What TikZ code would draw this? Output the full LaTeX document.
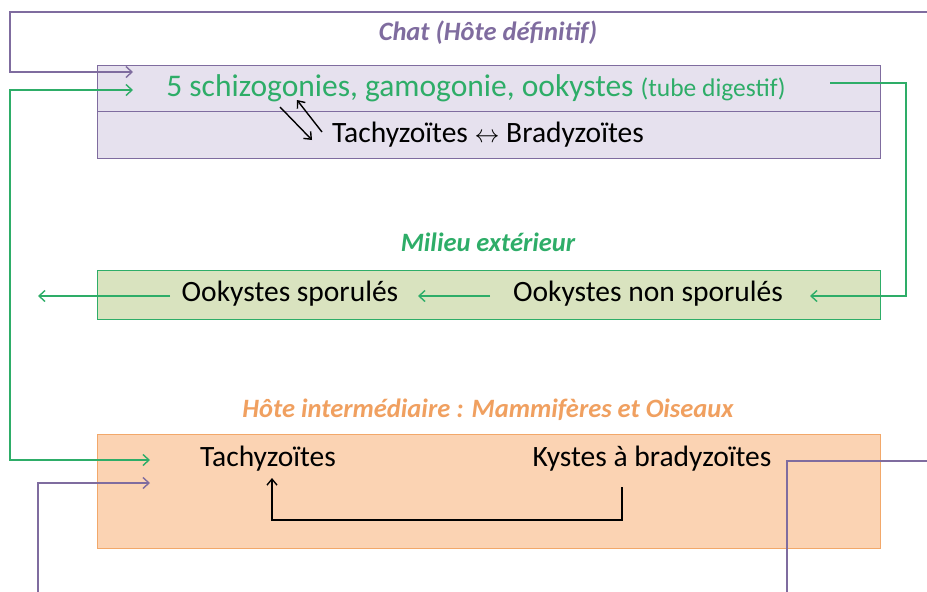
\documentclass[tikz,border=0pt]{standalone}
\usepackage{fontspec}
\setmainfont{Carlito}
\usetikzlibrary{arrows.meta, positioning}
\definecolor{chatline}{HTML}{7F6C9F}
\definecolor{chatfill}{HTML}{E6E1EE}
\definecolor{milgreen}{HTML}{2EAD68}
\definecolor{milfill}{HTML}{D9E3BF}
\definecolor{hotefill}{HTML}{FBD3B3}
\definecolor{hoteline}{HTML}{F2A86A}
\definecolor{hotetitle}{HTML}{F0A060}

\begin{document}
\begin{tikzpicture}[x=1pt, y=-1pt,
    zone/.style={rectangle, anchor=north west, inner sep=0pt,
                 minimum width=783pt, line width=1.2pt},
    title/.style={font=\fontsize{26.5}{26.5}\selectfont\bfseries\itshape},
    lbl/.style={font=\fontsize{29.5}{29.5}\selectfont, inner sep=1pt},
    parr/.style={-{Straight Barb[length=6pt,width=11pt]}, line width=1.4pt, color=chatline},
    garr/.style={-{Straight Barb[length=6pt,width=11pt]}, line width=1.4pt, color=milgreen},
    karr/.style={-{Straight Barb[length=6pt,width=10pt]}, line width=1.4pt, color=black}
  ]
    \useasboundingbox (0,0) rectangle (927,592);

    % chat
    \node[title, text=chatline] (chat) at (488,33) {Chat (Hôte définitif)};
    \node[zone, draw=chatline, fill=chatfill, minimum height=46pt] (cup) at (97,65) {};
    \node[zone, draw=chatline, fill=chatfill, minimum height=47pt] (cdown) at (97,111) {};
    \node[lbl, text=milgreen, font=\fontsize{31.5}{31.5}\selectfont] (schizo) at (476,88)
      {5 schizogonies, gamogonie, ookystes {\fontsize{25.5}{25.5}\selectfont(tube digestif)}};
    \node[lbl] (tb) at (488,135) {Tachyzoïtes $\leftrightarrow$ Bradyzoïtes};

    % milieu exterieur
    \node[title, text=milgreen] (milieu) at (488,242) {Milieu extérieur};
    \node[zone, draw=milgreen, fill=milfill, minimum height=49pt] (mbox) at (97,270) {};
    \node[lbl] (osp) at (290,294) {Ookystes sporulés};
    \node[lbl] (onsp) at (648,294) {Ookystes non sporulés};

    % hote intermediaire
    \node[title, text=hotetitle] (hote) at (488,410) {Hôte intermédiaire : Mammifères et Oiseaux};
    \node[zone, draw=hoteline, fill=hotefill, minimum height=114pt] (hbox) at (97,434) {};
    \node[lbl] (tachy) at (268,459) {Tachyzoïtes};
    \node[lbl] (kystes) at (652,459) {Kystes à bradyzoïtes};

    % free ends at the page edges
    \coordinate (tr) at (927,12);
    \coordinate (tl) at (10,12);
    \coordinate (cin) at (133,72);
    \coordinate (gin) at (133,90);
    \coordinate (hin) at (150,460);
    \coordinate (pin) at (150,483);
    \coordinate (bl) at (38,592);
    \coordinate (br) at (787,592);
    \coordinate (re) at (927,461);
    \coordinate (gout) at (38,296);

    \draw[parr] (tr) -- (tl) |- (cin);
    \draw[parr] (bl) |- (pin);
    \draw[line width=1.4pt, chatline] (br) |- (re);

    \draw[garr] (830,83) -| (906,296) -- (810,296);
    \draw[garr] (490,296) -- (418,296);
    \draw[garr] (170,296) -- (gout);
    \draw[garr, {Straight Barb[length=6pt,width=11pt]}-{Straight Barb[length=6pt,width=11pt]}]
      (gin) -| (10,460) -- (hin);

    \draw[karr] (622,487) -- (622,520) -- (272,520) -- (272,478);
    \draw[karr] (280,107) -- (312,140);
    \draw[karr] (322,132) -- (297,100);
  \end{tikzpicture}
\end{document}
